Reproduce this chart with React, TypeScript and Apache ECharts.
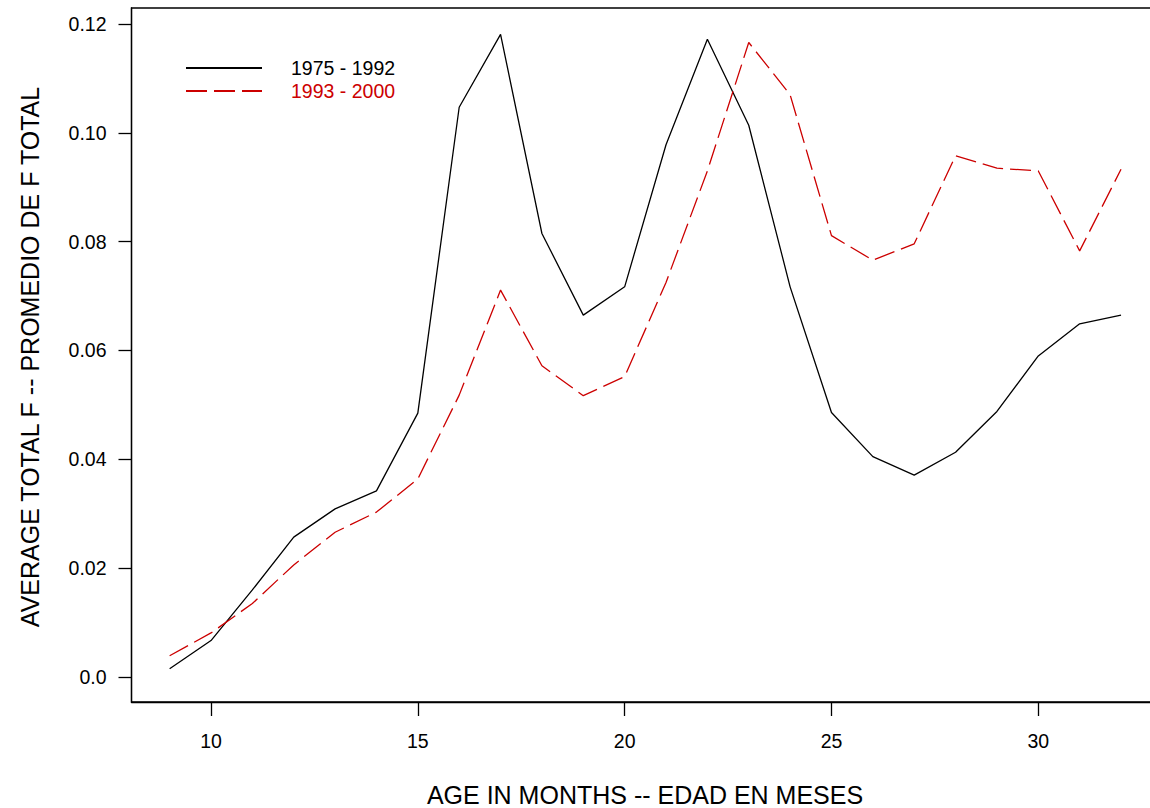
import React, { useEffect, useRef } from "react";
import * as echarts from "echarts";

const months = [9, 10, 11, 12, 13, 14, 15, 16, 17, 18, 19, 20, 21, 22, 23, 24, 25, 26, 27, 28, 29, 30, 31, 32];
const series1975 = [0.0015, 0.0067, 0.016, 0.0257, 0.0309, 0.0342, 0.0485, 0.1047, 0.1181, 0.0815, 0.0665, 0.0717, 0.0978, 0.1172, 0.1014, 0.0717, 0.0486, 0.0405, 0.0371, 0.0413, 0.0488, 0.059, 0.0649, 0.0665];
const series1993 = [0.0039, 0.0081, 0.0135, 0.0206, 0.0266, 0.0303, 0.0364, 0.0518, 0.0711, 0.0572, 0.0517, 0.0552, 0.0725, 0.093, 0.1166, 0.107, 0.0811, 0.0766, 0.0796, 0.0958, 0.0935, 0.093, 0.0783, 0.0933];
const xTicks = [10, 15, 20, 25, 30];
const yTicks = [0, 0.02, 0.04, 0.06, 0.08, 0.1, 0.12];
const yTickLabels = ["0.0", "0.02", "0.04", "0.06", "0.08", "0.10", "0.12"];
const seriesNames = ["1975 - 1992", "1993 - 2000"];
const xTitle = "AGE IN MONTHS -- EDAD EN MESES";
const yTitle = "AVERAGE TOTAL F -- PROMEDIO DE F TOTAL";

const FONT = "'Liberation Sans', Arial, Helvetica, sans-serif";
const RED = "#cc0000";

export default function App() {
  const ref = useRef<HTMLDivElement>(null);
  useEffect(() => {
    if (!ref.current) return;
    const chart = echarts.init(ref.current, undefined, { renderer: "svg" });
    const labelMap = new Map(yTicks.map((v, i) => [v.toFixed(2), yTickLabels[i]]));
    chart.setOption({
      animation: false,
      backgroundColor: "#fff",
      textStyle: { fontFamily: FONT },
      grid: {
        left: 131.5,
        top: 8,
        width: 1027.5,
        height: 694,
        show: true,
        borderColor: "#000",
        borderWidth: 1.3,
        containLabel: false,
        outerBoundsMode: "none",
      },
      legend: {
        orient: "vertical",
        left: 185,
        top: 58,
        padding: 0,
        itemWidth: 76,
        itemHeight: 20,
        itemGap: 3,
        itemStyle: { opacity: 0 },
        textStyle: { fontSize: 19.5, fontFamily: FONT, padding: [0, 0, 0, 24], lineHeight: 20 },
        data: [
          { name: seriesNames[0], textStyle: { color: "#000" } },
          { name: seriesNames[1], textStyle: { color: RED } },
        ],
      },
      xAxis: {
        type: "value",
        min: 8.078,
        max: 32.918,
        splitLine: { show: false },
        axisLine: { show: true, onZero: false, lineStyle: { color: "#000", width: 1.3 } },
        axisTick: { show: true, inside: false, length: 14, customValues: xTicks, lineStyle: { color: "#000", width: 1.3 } },
        axisLabel: { customValues: xTicks, margin: 29, fontSize: 19.5, color: "#000", fontFamily: FONT },
      },
      yAxis: {
        type: "value",
        min: -0.004594,
        max: 0.12294,
        splitLine: { show: false },
        axisLine: { show: true, onZero: false, lineStyle: { color: "#000", width: 1.3 } },
        axisTick: { show: true, inside: false, length: 13, customValues: yTicks, lineStyle: { color: "#000", width: 1.3 } },
        axisLabel: {
          customValues: yTicks,
          margin: 25,
          fontSize: 19.5,
          color: "#000",
          fontFamily: FONT,
          formatter: (v: number) => labelMap.get(v.toFixed(2)) ?? String(v),
        },
      },
      graphic: [
        {
          type: "text",
          x: 645,
          y: 795,
          style: { text: xTitle, fontSize: 25, fontFamily: FONT, fill: "#000", textAlign: "center", textVerticalAlign: "middle" },
        },
        {
          type: "text",
          x: 30,
          y: 357,
          rotation: Math.PI / 2,
          style: { text: yTitle, fontSize: 25, fontFamily: FONT, fill: "#000", textAlign: "center", textVerticalAlign: "middle" },
        },
      ],
      series: [
        {
          name: seriesNames[0],
          type: "line",
          symbol: "none",
          data: months.map((m, i) => [m, series1975[i]]),
          lineStyle: { color: "#000", width: 1.3, type: "solid" },
          itemStyle: { color: "#000" },
        },
        {
          name: seriesNames[1],
          type: "line",
          symbol: "none",
          data: months.map((m, i) => [m, series1993[i]]),
          lineStyle: { color: RED, width: 1.3, type: [21, 7] },
          itemStyle: { color: RED },
        },
      ],
    });
    return () => chart.dispose();
  }, []);
  return <div ref={ref} style={{ position: "absolute", left: 0, top: 0, width: 1150, height: 808 }} />;
}
